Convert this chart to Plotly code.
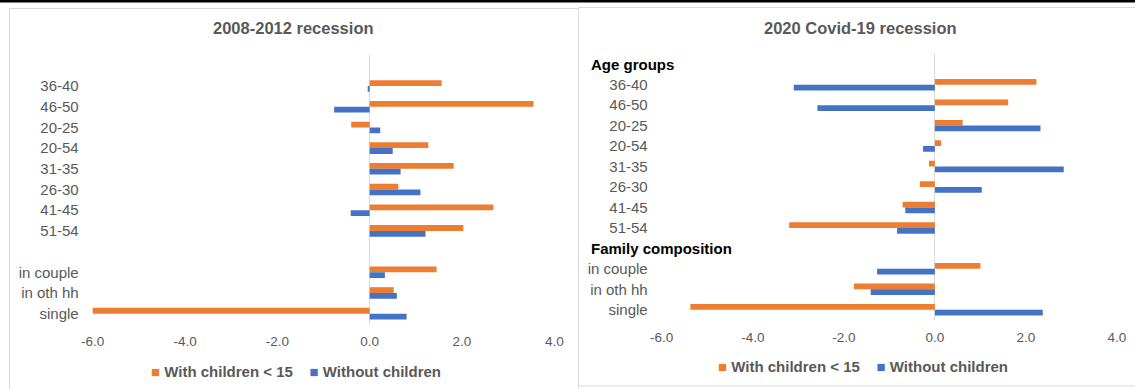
import plotly.graph_objects as go

# Category slots, top to bottom (header slots carry no bars)
categories = ["Age groups", "36-40", "46-50", "20-25", "20-54", "31-35", "26-30",
              "41-45", "51-54", "Family composition", "in couple", "in oth hh", "single"]
headers = ["Age groups", "Family composition"]

# 2008-2012 recession
rec08_with_children = [None, 1.56, 3.55, -0.40, 1.27, 1.82, 0.62, 2.68, 2.03, None, 1.45, 0.52, -6.02]
rec08_without_children = [None, -0.03, -0.77, 0.23, 0.50, 0.67, 1.10, -0.41, 1.21, None, 0.33, 0.59, 0.80]

# 2020 Covid-19 recession
cov20_with_children = [None, 2.23, 1.61, 0.61, 0.14, -0.13, -0.33, -0.71, -3.20, None, 1.00, -1.78, -5.37]
cov20_without_children = [None, -3.10, -2.58, 2.32, -0.26, 2.83, 1.03, -0.65, -0.83, None, -1.27, -1.41, 2.37]

x_ticks = [-6, -4, -2, 0, 2, 4]
x_tick_text = ["-6.0", "-4.0", "-2.0", "0.0", "2.0", "4.0"]

series_names = ["With children < 15", "Without children"]

ORANGE = "#ED7D31"
BLUE = "#4472C4"
GREY_TXT = "#595959"
FONT = "Liberation Sans, Arial, sans-serif"
W, H = 1135, 389


def px_x(p):
    return p / W


def px_y(p):
    return (H - p) / H


fig = go.Figure()

for vals, name, color, xa, ya in [
    (rec08_with_children, series_names[0], ORANGE, "x", "y"),
    (rec08_without_children, series_names[1], BLUE, "x", "y"),
    (cov20_with_children, series_names[0], ORANGE, "x2", "y2"),
    (cov20_without_children, series_names[1], BLUE, "x2", "y2"),
]:
    fig.add_trace(go.Bar(
        x=vals, y=categories, orientation="h", name=name,
        marker=dict(color=color, line=dict(width=0)),
        xaxis=xa, yaxis=ya, showlegend=False,
    ))

xcommon = dict(
    range=[-6, 4], tickvals=x_ticks, ticktext=x_tick_text, automargin=False,
    showgrid=False, zeroline=True, zerolinecolor="#d9d9d9", zerolinewidth=1,
    showline=False, ticks="", ticklabelstandoff=7, fixedrange=True,
    tickfont=dict(family=FONT, size=13.5, color=GREY_TXT),
)
ycommon = dict(
    type="category", categoryorder="array", categoryarray=categories,
    range=[12.5, -0.5], showgrid=False, zeroline=False, showline=False, automargin=False,
    ticks="", tickvals=categories, ticklabelstandoff=13, fixedrange=True,
    tickfont=dict(family=FONT, size=15, color=GREY_TXT),
)

tick_labels = ["" if c in headers else c for c in categories]

fig.update_layout(
    template="none",
    width=W, height=H,
    margin=dict(l=0, r=0, t=0, b=0, autoexpand=False),
    paper_bgcolor="white", plot_bgcolor="white",
    barmode="group", bargap=0.44, bargroupgap=0,
    font=dict(family=FONT, color=GREY_TXT),
    showlegend=False,
    xaxis=dict(domain=[px_x(92.7), px_x(554.3)], anchor="y", **xcommon),
    yaxis=dict(domain=[px_y(324), px_y(55)], anchor="x", ticktext=tick_labels, **ycommon),
    xaxis2=dict(domain=[px_x(661.7), px_x(1117)], anchor="y2", **xcommon),
    yaxis2=dict(domain=[px_y(320), px_y(54)], anchor="x2", ticktext=tick_labels, **ycommon),
)

# Panel titles
for txt, cx in [("2008-2012 recession", 293.5), ("2020 Covid-19 recession", 860)]:
    fig.add_annotation(text="<b>%s</b>" % txt, x=px_x(cx), y=px_y(28), xref="paper", yref="paper",
                       showarrow=False, xanchor="center", yanchor="middle",
                       font=dict(family=FONT, size=16.5, color=GREY_TXT))

# Group headers on the right-hand panel
for h in headers:
    fig.add_annotation(text="<b>%s</b>" % h, x=px_x(589), y=h, xref="paper", yref="y2",
                       showarrow=False, xanchor="left", yanchor="middle",
                       font=dict(family=FONT, size=15, color="black"))

# Compact series keys under each panel
key_text = ('<span style="color:%s">■</span> <b>%s</b>    '
            '<span style="color:%s">■</span> <b>%s</b>') % (
    ORANGE, series_names[0].replace("<", "&lt;"), BLUE, series_names[1])
for cx, cy in [(296, 371), (863, 366)]:
    fig.add_annotation(text=key_text, x=px_x(cx), y=px_y(cy), xref="paper", yref="paper",
                       showarrow=False, xanchor="center", yanchor="middle",
                       font=dict(family=FONT, size=15, color=GREY_TXT))

# Panel frames and the rule across the top
fig.add_shape(type="rect", xref="paper", yref="paper",
              x0=px_x(9.5), x1=px_x(578.5), y0=px_y(400), y1=px_y(8.5),
              line=dict(color="#d9d9d9", width=1), fillcolor="rgba(0,0,0,0)", layer="below")
fig.add_shape(type="rect", xref="paper", yref="paper",
              x0=px_x(578.5), x1=px_x(1145), y0=px_y(386), y1=px_y(7.5),
              line=dict(color="#d9d9d9", width=1), fillcolor="rgba(0,0,0,0)", layer="below")
fig.add_shape(type="line", xref="paper", yref="paper",
              x0=0, x1=1, y0=px_y(1.2), y1=px_y(1.2),
              line=dict(color="black", width=2.4), layer="above")

fig.write_html("out.html", config={"displayModeBar": False})
